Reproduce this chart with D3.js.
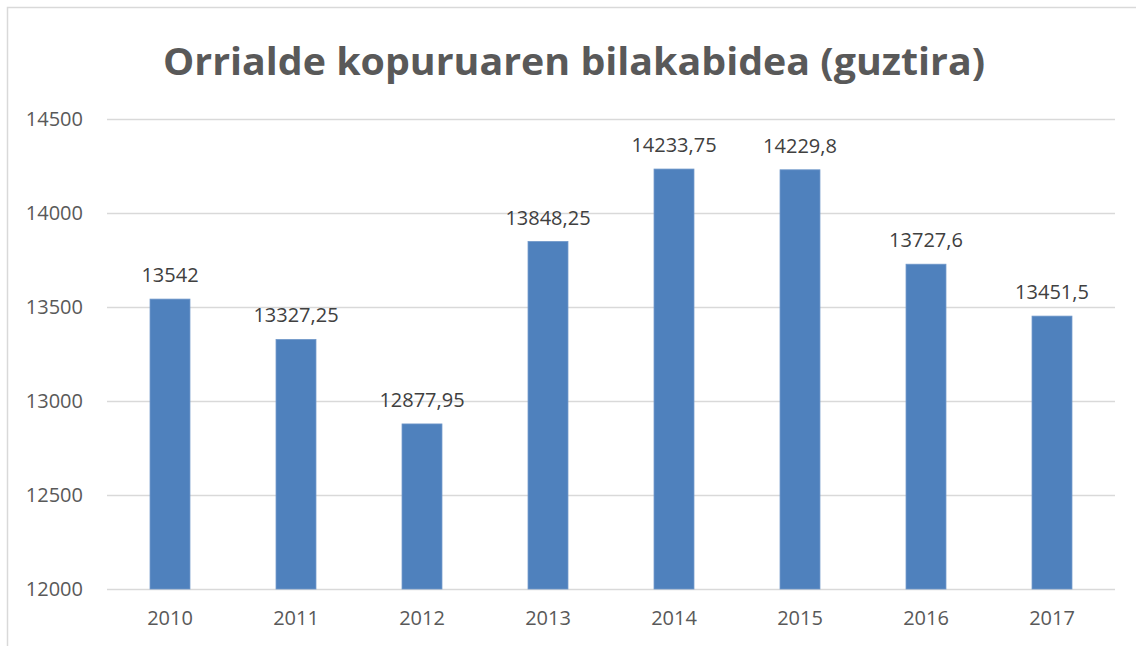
<!DOCTYPE html>
<html>
<head>
<meta charset="utf-8">
<script src="https://cdn.jsdelivr.net/npm/d3@7"></script>
<style>
  body { margin: 0; background: #fff; }
  text { font-family: "Open Sans", "Liberation Sans", sans-serif; }
</style>
</head>
<body>
<div id="chart_area"></div>
<script>
// Data
var years = ["2010", "2011", "2012", "2013", "2014", "2015", "2016", "2017"];
var pages = [13542, 13327.25, 12877.95, 13848.25, 14233.75, 14229.8, 13727.6, 13451.5];
var pageLabels = ["13542", "13327,25", "12877,95", "13848,25", "14233,75", "14229,8", "13727,6", "13451,5"];
var yTicks = [12000, 12500, 13000, 13500, 14000, 14500];

var W = 1136, H = 646;
var margin = {top: 119, right: 21, bottom: 57, left: 107},
    width = W - margin.left - margin.right,
    height = H - margin.top - margin.bottom;

var svg = d3.select("#chart_area").append("svg")
    .attr("width", W)
    .attr("height", H);

// Chart border (extends past the right / bottom edges)
svg.append("rect")
    .attr("x", 7.5).attr("y", 7.5)
    .attr("width", W + 20).attr("height", H + 20)
    .attr("fill", "none")
    .attr("stroke", "#d9d9d9")
    .attr("stroke-width", 1.5);

// Title
svg.append("text")
    .attr("x", 574)
    .attr("y", 75)
    .attr("text-anchor", "middle")
    .attr("font-size", 38)
    .attr("font-weight", "bold")
    .attr("fill", "#595959")
    .attr("textLength", 822)
    .attr("lengthAdjust", "spacingAndGlyphs")
    .text("Orrialde kopuruaren bilakabidea (guztira)");

var g = svg.append("g")
    .attr("transform", "translate(" + margin.left + "," + margin.top + ")");

var x = d3.scaleBand()
    .domain(years)
    .range([0, width])
    .paddingInner(0.683)
    .paddingOuter(0.3415);

var y = d3.scaleLinear()
    .domain([12000, 14500])
    .range([height, 0]);

// Gridlines
g.selectAll(".grid")
    .data(yTicks)
    .enter().append("line")
    .attr("class", "grid")
    .attr("x1", 0).attr("x2", width)
    .attr("y1", function(d) { return Math.round(y(d)) + 0.5; })
    .attr("y2", function(d) { return Math.round(y(d)) + 0.5; })
    .attr("stroke", "#d9d9d9")
    .attr("stroke-width", 1.5);

// Bars
g.selectAll(".bar")
    .data(pages)
    .enter().append("rect")
    .attr("class", "bar")
    .attr("x", function(d, i) { return x(years[i]); })
    .attr("width", x.bandwidth())
    .attr("y", function(d) { return y(d); })
    .attr("height", function(d) { return height - y(d); })
    .attr("fill", "#4f81bd")
    .attr("stroke", "#6f97c9")
    .attr("stroke-width", 0.8);

// Value labels
g.selectAll(".lbl")
    .data(pages)
    .enter().append("text")
    .attr("class", "lbl")
    .attr("x", function(d, i) { return x(years[i]) + x.bandwidth() / 2; })
    .attr("y", function(d) { return y(d) - 17; })
    .attr("text-anchor", "middle")
    .attr("font-size", 20)
    .attr("fill", "#404040")
    .text(function(d, i) { return pageLabels[i]; });

// Y axis labels
var yAxis = g.append("g")
    .call(d3.axisLeft(y).tickValues(yTicks).tickSize(0).tickPadding(24).tickFormat(d3.format("d")));
yAxis.select(".domain").remove();
yAxis.selectAll("text")
    .attr("font-size", 20)
    .attr("fill", "#595959")
    .style("font-family", "'Open Sans', sans-serif");

// X axis labels
var xAxis = g.append("g")
    .attr("transform", "translate(0," + height + ")")
    .call(d3.axisBottom(x).tickSize(0).tickPadding(22));
xAxis.select(".domain").remove();
xAxis.selectAll("text")
    .attr("font-size", 20)
    .attr("fill", "#595959")
    .style("font-family", "'Open Sans', sans-serif");
</script>
</body>
</html>
